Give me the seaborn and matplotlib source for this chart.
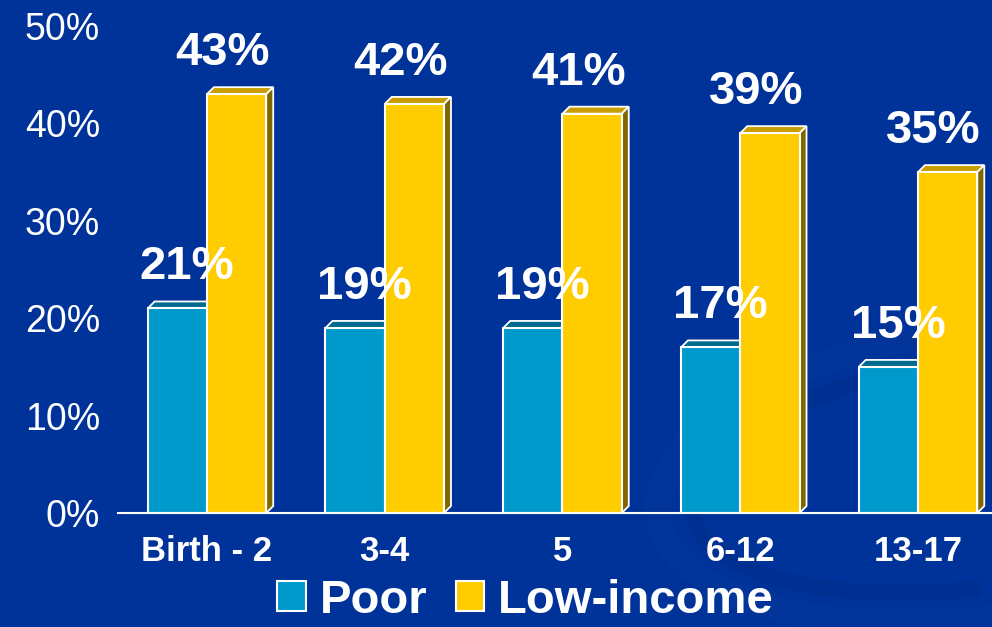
import pandas as pd
import matplotlib
matplotlib.use("Agg")
import matplotlib.pyplot as plt
import seaborn as sns
from matplotlib.patches import Polygon, Patch, Arc

# data
categories = ["Birth - 2", "3-4", "5", "6-12", "13-17"]
poor = [21, 19, 19, 17, 15]
low_income = [43, 42, 41, 39, 35]
series_names = ["Poor", "Low-income"]
y_ticks = [0, 10, 20, 30, 40, 50]

BG = "#003399"
COLORS = {"Poor": "#0099CC", "Low-income": "#FFCC00"}
TOP_COLORS = {"Poor": "#006B8F", "Low-income": "#C99E00"}
SIDE_COLORS = {"Poor": "#005F80", "Low-income": "#806600"}


def build_frame():
    """Long-form table for seaborn."""
    df = pd.DataFrame({
        "Age": categories * 2,
        "Share": poor + low_income,
        "Group": [series_names[0]] * len(poor) + [series_names[1]] * len(low_income),
    })
    return df


def add_depth(ax, depth_px=7):
    """Adds a fake 3D top and side face to each bar."""
    inv = ax.transData.inverted()
    x0, y0 = inv.transform((0, 0))
    x1, y1 = inv.transform((depth_px, depth_px))
    dx, dy = x1 - x0, y1 - y0
    for name, container in zip(series_names, ax.containers):
        for bar in container:
            bx = bar.get_x()
            bw = bar.get_width()
            bh = bar.get_height()
            top = Polygon([(bx, bh), (bx + bw, bh), (bx + bw + dx, bh + dy), (bx + dx, bh + dy)],
                          closed=True, facecolor=TOP_COLORS[name], edgecolor="white",
                          linewidth=1.3, zorder=0.8)
            side = Polygon([(bx + bw, 0), (bx + bw + dx, dy), (bx + bw + dx, bh + dy), (bx + bw, bh)],
                           closed=True, facecolor=SIDE_COLORS[name], edgecolor="white",
                           linewidth=1.3, zorder=0.8)
            ax.add_patch(top)
            ax.add_patch(side)


def plot_chart(df, save_path="out.png"):
    sns.set_style("white")
    plt.rcParams["font.family"] = ["Liberation Sans", "DejaVu Sans"]
    fig = plt.figure(figsize=(9.92, 6.27), dpi=100)
    fig.patch.set_facecolor(BG)

    # faint swirl in the background
    swirl = Arc((9.85, 1.55), 6.6, 2.9, angle=8, theta1=95, theta2=265,
                transform=fig.dpi_scale_trans, color="#08389C", linewidth=18, alpha=0.4, zorder=0)
    fig.add_artist(swirl)
    swirl2 = Arc((9.85, 1.55), 5.9, 2.3, angle=8, theta1=100, theta2=260,
                 transform=fig.dpi_scale_trans, color="#002C8A", linewidth=12, alpha=0.45, zorder=0)
    fig.add_artist(swirl2)

    ax = fig.add_axes([0.119, 0.1818, 0.896, 0.7767])
    ax.set_facecolor("none")
    sns.barplot(data=df, x="Age", y="Share", hue="Group", hue_order=series_names,
                palette=COLORS, width=0.667, dodge=True, saturation=1,
                edgecolor="white", linewidth=1.5, legend=False, ax=ax, zorder=1)

    ax.set_xlim(-0.5, len(categories) - 0.5)
    ax.set_ylim(0, 50)
    add_depth(ax)

    # value labels
    for name, container, vals, xoff in zip(series_names, ax.containers, [poor, low_income], [7, -10]):
        for bar, v in zip(container, vals):
            ax.annotate(f"{v}%", (bar.get_x() + bar.get_width() / 2, bar.get_height()),
                        xytext=(xoff, 21), textcoords="offset points", ha="center", va="baseline",
                        color="white", fontsize=34, fontweight="bold", zorder=5)

    # axes styling
    for s in ["top", "right", "left"]:
        ax.spines[s].set_visible(False)
    ax.spines["bottom"].set_color("white")
    ax.spines["bottom"].set_linewidth(1.5)
    ax.set_yticks(y_ticks)
    ax.set_yticklabels([f"{t}%" for t in y_ticks], color="white", fontsize=27)
    ax.tick_params(axis="y", length=0, pad=13)
    ax.set_xticks(range(len(categories)))
    ax.set_xticklabels(categories, color="white", fontsize=25, fontweight="bold")
    ax.tick_params(axis="x", which="major", length=0, pad=16)
    ax.set_xticks([i - 0.5 for i in range(len(categories) + 1)], minor=True)
    ax.tick_params(axis="x", which="minor", length=7, width=1.5, color="white", direction="out")
    ax.set_xlabel("")
    ax.set_ylabel("")
    ax.grid(False)

    handles = [Patch(facecolor=COLORS[n], edgecolor="white", linewidth=1.5) for n in series_names]
    leg = fig.legend(handles, series_names, loc="center", bbox_to_anchor=(0.53, 0.042), ncol=2,
                     frameon=False, handlelength=0.6, handleheight=0.6, handletextpad=0.3,
                     columnspacing=0.6, borderpad=0.2, prop={"size": 34, "weight": "bold"})
    for t in leg.get_texts():
        t.set_color("white")

    fig.savefig(save_path, dpi=100, facecolor=BG)


if __name__ == "__main__":
    df = build_frame()
    plot_chart(df, save_path="out.png")
